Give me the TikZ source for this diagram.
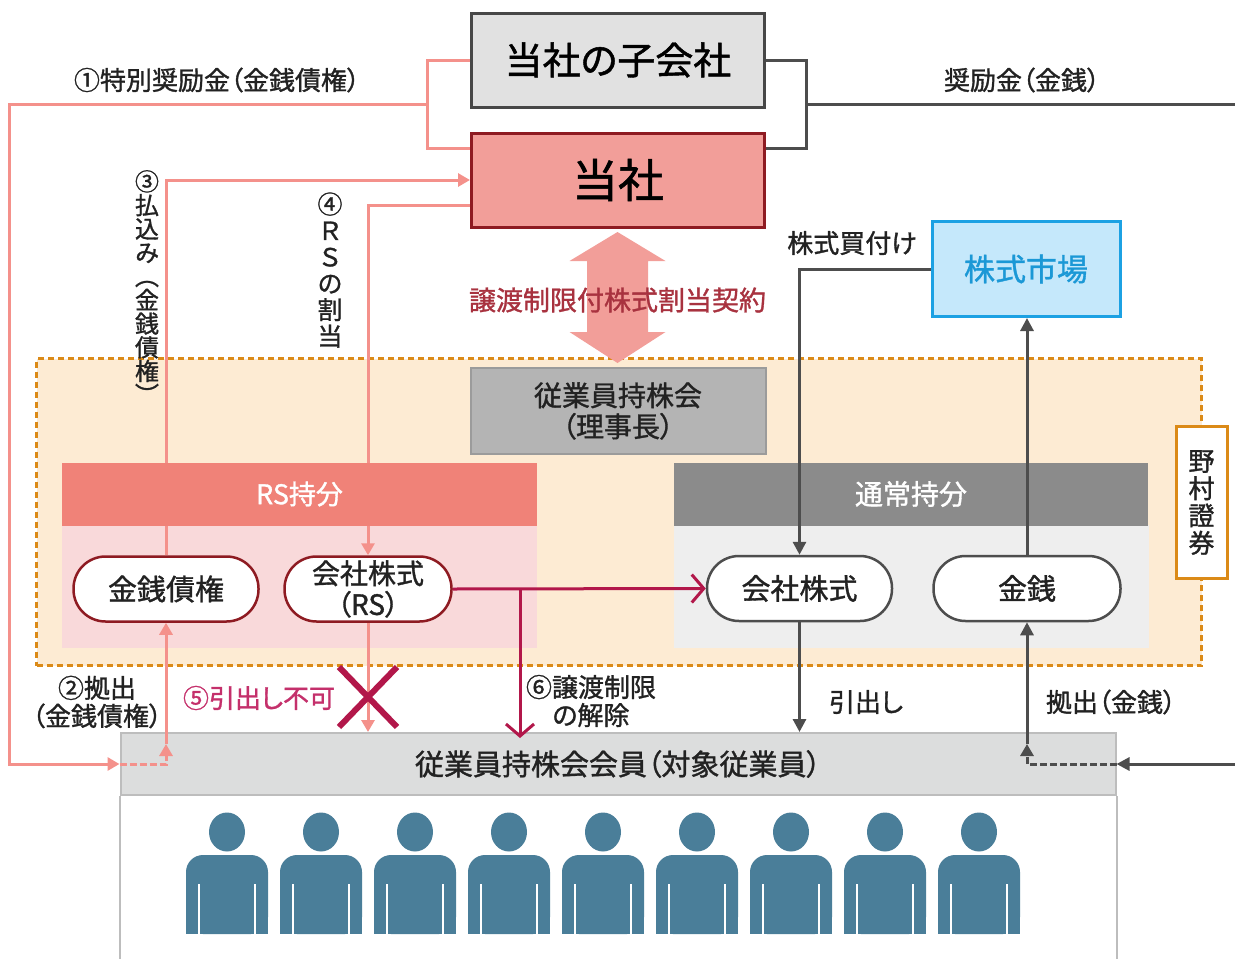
\documentclass[tikz,border=0pt]{standalone}
\usepackage{fontspec}
\setmainfont{Noto Sans CJK JP}[RawFeature=+palt,FakeBold=1.2]
\usetikzlibrary{arrows.meta, positioning, calc}
\newcommand{\fsz}[2]{\fontsize{#1}{#2}\selectfont}
\definecolor{rspink}{HTML}{F4918B}
\definecolor{toshafill}{HTML}{F29E99}
\definecolor{toshaedge}{HTML}{8E1B22}
\definecolor{rsbar}{HTML}{F08278}
\definecolor{rspale}{HTML}{F9D9DA}
\definecolor{holdfill}{HTML}{FDEBD3}
\definecolor{holdedge}{HTML}{DB8A17}
\definecolor{relmag}{HTML}{B2174A}
\definecolor{ngtext}{HTML}{C4306B}
\definecolor{agreetext}{HTML}{A8323F}
\definecolor{linegray}{HTML}{4D4D4D}
\definecolor{bargray}{HTML}{8B8B8B}
\definecolor{panelgray}{HTML}{EEEEEE}
\definecolor{chairfill}{HTML}{B4B4B4}
\definecolor{chairedge}{HTML}{9B9B9B}
\definecolor{subfill}{HTML}{E1E1E1}
\definecolor{subedge}{HTML}{474747}
\definecolor{memfill}{HTML}{DCDDDD}
\definecolor{memedge}{HTML}{BDBDBD}
\definecolor{person}{HTML}{4A7E99}
\definecolor{mktfill}{HTML}{C5E8FB}
\definecolor{mktedge}{HTML}{1CA1E3}
\definecolor{mkttext}{HTML}{1B98D6}
\definecolor{txtdark}{HTML}{222222}
\tikzset{
  company/.style={line width=3pt,minimum width=293pt,minimum height=94pt,inner sep=0pt},
  holdarea/.style={draw=holdedge,fill=holdfill,line width=3pt,dash pattern=on 6pt off 4pt,minimum width=1165pt,minimum height=307pt},
  panel/.style={minimum width=475pt,minimum height=123pt,inner sep=0pt},
  sharebar/.style={minimum width=475pt,minimum height=63pt,inner sep=0pt,text=white,font=\fsz{27}{27}},
  pill/.style={draw,fill=white,line width=2.5pt,rounded corners=32pt,minimum width=185pt,minimum height=65pt,inner sep=0pt,text=txtdark,align=center},
  lbl/.style={inner sep=0pt,text=txtdark,font=\fsz{26}{28},align=center},
  vlbl/.style={inner sep=0pt,text=txtdark,align=center},
  pinkline/.style={draw=rspink,line width=3pt},
  pinkarrow/.style={pinkline,-{Triangle[length=12pt,width=13pt]}},
  grayline/.style={draw=linegray,line width=3pt},
  grayarrow/.style={grayline,-{Triangle[length=13pt,width=13pt]}},
  dashlink/.style={dash pattern=on 7pt off 3pt,-{Triangle[length=12pt,width=13pt]}},
  relarrow/.style={draw=relmag,line width=3pt,-{Straight Barb[length=12pt,width=28pt,line width=3pt]}},
}
\begin{document}
\begin{tikzpicture}[x=1pt,y=-1pt]
\useasboundingbox (0,0) rectangle (1235,959);
\node[holdarea] (hold) at (619,512) {};
\node[panel,fill=rspale] (rspanel) at (299.5,586.5) {};
\node[panel,fill=panelgray] (tspanel) at (911,586.5) {};
\node[company,draw=subedge,fill=subfill,font=\fsz{38}{38}] (sub) at (618,60) {当社の子会社};
\node[company,draw=toshaedge,fill=toshafill,font=\fsz{46}{46}] (tosha) at (618,180) {当社};
\node[pill,draw=toshaedge,font=\fsz{29}{29}] (kinken) at (166,589) {金銭債権};
\node[pill,draw=toshaedge,minimum width=167pt,font=\fsz{28}{31}] (rsstock) at (368,589) {会社株式\\（RS）};
\coordinate (j1) at (427,104);
\coordinate (c1) at (9,104);
\coordinate (j2) at (806,104);
\coordinate (c2) at (1235,104);
\draw[pinkarrow] (kinken.north) |- (tosha.west);
\draw[pinkarrow] ($(tosha.south west)+(0,-23)$) -| (rsstock.north);
\node[sharebar,fill=rsbar] (rsbar) at (299.5,494) {RS持分};
\node[sharebar,fill=bargray,minimum width=474pt,font=\fsz{28}{28}] (tsbar) at (911,494) {通常持分};
\node[draw=chairedge,fill=chairfill,line width=2pt,minimum width=295pt,minimum height=86pt,
  inner sep=0pt,align=center,text=txtdark,font=\fsz{28}{31}] (chair) at (618,411) {従業員持株会\\（理事長）};
\node[pill,draw=linegray,font=\fsz{29}{29}] (stock) at (799.5,588.5) {会社株式};
\node[pill,draw=linegray,minimum width=187pt,font=\fsz{29}{29}] (money) at (1027,588.5) {金銭};
\node[draw=mktedge,fill=mktfill,line width=3pt,minimum width=188pt,minimum height=95pt,
  inner sep=0pt,text=mkttext,font=\fsz{31}{31}] (market) at (1026,269) {株式市場};
\node[draw=holdedge,fill=white,line width=3pt,minimum width=51pt,minimum height=152pt,
  inner sep=0pt,align=center,text=txtdark,font=\fsz{26}{27.3}] (nomura) at (1201.5,502.5) {野\\村\\證\\券};
\node[draw=memedge,fill=memfill,line width=2pt,minimum width=995pt,minimum height=62pt,
  inner sep=0pt,text=txtdark,font=\fsz{29}{29}] (members) at (618,764) {従業員持株会会員（対象従業員）};
\draw[draw=memedge,line width=2pt] (members.south west) -- ++(0,180) (members.south east) -- ++(0,180);
\foreach \i in {0,...,8} {
  \fill[person] (227+94*\i,832) ellipse (18 and 19.5);
  \fill[person,rounded corners=17pt] (186+94*\i,855) rectangle (268+94*\i,934);
  \fill[person] (186+94*\i,890) rectangle (268+94*\i,934);
  \draw[white,line width=2pt] (199+94*\i,884) -- (199+94*\i,936) (255+94*\i,884) -- (255+94*\i,936);
}
\draw[pinkline] (sub.west) -| (j1) |- ($(tosha.north west)+(0,17)$);
\draw[pinkarrow] (j1) -- (c1) |- (members.west);
\coordinate (c5) at (166,744);
\draw[pinkline,dashlink] (members.west) -| (c5);
\draw[pinkarrow] (c5) -- (kinken.south);
\draw[grayline] (sub.east) -| (j2) |- ($(tosha.north east)+(0,17)$);
\draw[grayline] (j2) -- (c2);
\draw[grayarrow] (market.west) -| (stock.north);
\draw[grayarrow] (money.north) -- (money.north |- market.south);
\draw[grayarrow] (stock.south) -- (stock.south |- members.north);
\coordinate (c6) at (1235,764);
\coordinate (c7) at (1027,744);
\draw[grayarrow] (c6) -- (members.east);
\draw[grayline,dashlink] (members.east) -| (c7);
\draw[grayarrow] (c7) -- (money.south);
\coordinate (c8) at (520,588.5);
\draw[relarrow] (rsstock.east) -- (stock.west);
\draw[relarrow] (c8) -- ($(c8 |- members.north)+(0,6)$);
\draw[pinkarrow] (rsstock.south) -- (rsstock.south |- members.north);
\coordinate (c9) at (368,697);
\draw[relmag,line width=6pt] (c9) ++(-29,-30) -- ++(58,60) (c9) ++(29,-30) -- ++(-58,60);
\fill[toshafill] (617.5,232) -- (665.5,261) -- (648,261) -- (648,332) -- (665.5,332) -- (617.5,363)
  -- (569.5,332) -- (587,332) -- (587,261) -- (569.5,261) -- cycle;
\node[lbl,text=agreetext,font=\fsz{27}{27}] (agree) at (617.5,300) {譲渡制限付株式割当契約};
\node[lbl] (l1) at (217,80) {①特別奨励金（金銭債権）};
\node[lbl] (lbonus) at (1022,80) {奨励金（金銭）};
\node[vlbl,font=\fsz{24}{23.7}] (l3) at (147,287) {③\\払\\込\\み\\︵\\金\\銭\\債\\権\\︶};
\node[vlbl,font=\fsz{25}{26.4}] (l4) at (330,270) {④\\Ｒ\\Ｓ\\の\\割\\当};
\node[lbl] (lbuy) at (852,243) {株式買付け};
\node[lbl] (l2) at (97,702) {②拠出\\（金銭債権）};
\node[lbl,text=ngtext] (l5) at (259,698) {⑤引出し不可};
\node[lbl] (l6) at (591,701) {⑥譲渡制限\\の解除};
\node[lbl] (ldraw) at (866,702) {引出し};
\node[lbl] (lpay) at (1111,702) {拠出（金銭）};
\end{tikzpicture}
\end{document}
